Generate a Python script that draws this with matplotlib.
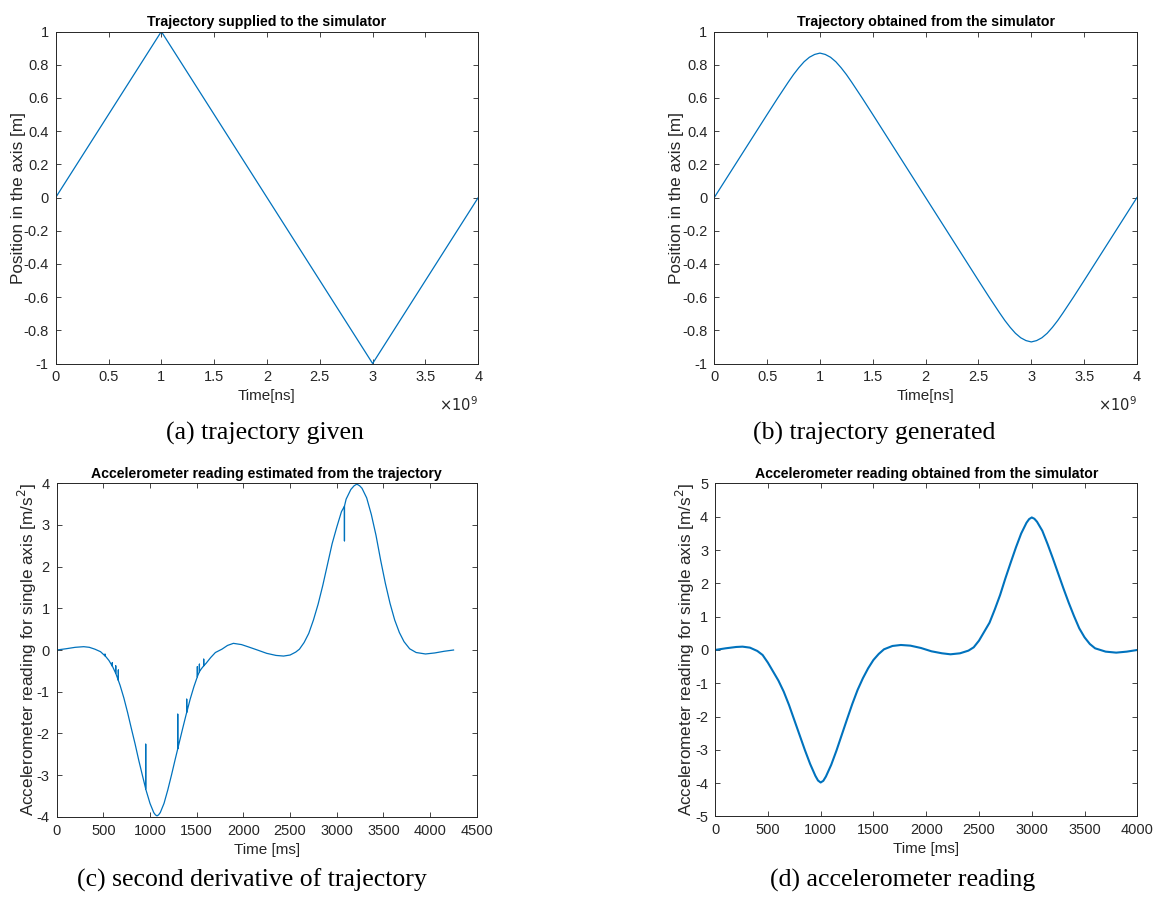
import numpy as np
import matplotlib
matplotlib.use("Agg")
import matplotlib.pyplot as plt
from matplotlib.ticker import FuncFormatter, MultipleLocator

# (a) trajectory given to the simulator, time in ns
a_time_ns = [0, 1e9, 3e9, 4e9]
a_pos = [0, 1, -1, 0]

# (b) trajectory obtained from the simulator, time in units of 1e9 ns
b_time = [0, 0.5, 0.6, 0.7, 0.75, 0.8, 0.85, 0.9, 0.95, 1.0, 1.05, 1.1, 1.15, 1.2,
          1.25, 1.3, 1.4, 1.5, 2.5, 2.6, 2.7, 2.75, 2.8, 2.85, 2.9, 2.95, 3.0, 3.05,
          3.1, 3.15, 3.2, 3.25, 3.3, 3.4, 3.5, 4.0]
b_pos = [0, 0.5, 0.599, 0.695, 0.741, 0.782, 0.818, 0.845, 0.862, 0.87, 0.862, 0.845,
         0.818, 0.782, 0.741, 0.695, 0.599, 0.5, -0.5, -0.599, -0.695, -0.741, -0.782,
         -0.818, -0.845, -0.862, -0.87, -0.862, -0.845, -0.818, -0.782, -0.741, -0.695,
         -0.599, -0.5, 0]

# (c) second derivative of the trajectory, time in ms
c_time = [0, 100, 200, 290, 350, 410, 470, 520, 560, 600, 640, 680, 720, 760, 800, 840,
          880, 920, 960, 1000, 1040, 1058, 1075, 1092, 1110, 1150, 1190, 1230, 1270, 1310,
          1350, 1390, 1430, 1470, 1510, 1550, 1600, 1650, 1700, 1770, 1830, 1893, 1980,
          2060, 2150, 2250, 2350, 2430, 2500, 2560, 2600, 2650, 2700, 2750, 2800, 2850,
          2900, 2950, 3000, 3050, 3100, 3150, 3185, 3215, 3245, 3270, 3320, 3370, 3420,
          3470, 3520, 3570, 3620, 3670, 3720, 3780, 3850, 3950, 4050, 4150, 4250]
c_accel = [0.0, 0.03, 0.065, 0.08, 0.065, 0.02, -0.04, -0.14, -0.25, -0.40, -0.60, -0.85,
           -1.15, -1.50, -1.88, -2.25, -2.65, -3.02, -3.38, -3.68, -3.90, -3.955, -3.98,
           -3.955, -3.90, -3.68, -3.36, -3.00, -2.62, -2.25, -1.88, -1.52, -1.18, -0.88,
           -0.62, -0.45, -0.32, -0.18, -0.06, 0.02, 0.11, 0.16, 0.13, 0.07, 0.0, -0.08,
           -0.13, -0.145, -0.12, -0.05, 0.02, 0.18, 0.40, 0.72, 1.10, 1.55, 2.05, 2.55,
           2.95, 3.32, 3.62, 3.85, 3.94, 3.98, 3.94, 3.88, 3.65, 3.25, 2.75, 2.15, 1.60,
           1.12, 0.72, 0.42, 0.20, 0.03, -0.06, -0.095, -0.07, -0.03, 0.0]
# glitches in the numerical derivative
spike_time = [518, 597, 633, 661, 954, 1297, 1393, 1507, 1529, 1575, 3082]
spike_base = [-0.14, -0.39, -0.56, -0.73, -3.33, -2.37, -1.50, -0.64, -0.52, -0.38, 3.45]
spike_tip = [-0.10, -0.30, -0.38, -0.48, -2.26, -1.54, -1.18, -0.40, -0.34, -0.22, 2.62]

# (d) accelerometer reading from the simulator, time in ms
d_time = [0, 100, 200, 260, 330, 400, 450, 500, 550, 600, 650, 700, 750, 800, 850, 900,
          950, 975, 1000, 1025, 1050, 1100, 1150, 1200, 1250, 1300, 1350, 1400, 1450,
          1500, 1550, 1600, 1680, 1760, 1850, 1950, 2050, 2150, 2230, 2320, 2400, 2450,
          2500, 2550, 2600, 2650, 2700, 2750, 2800, 2850, 2900, 2950, 2975, 3000, 3025,
          3050, 3100, 3150, 3200, 3250, 3300, 3350, 3400, 3450, 3500, 3550, 3600, 3700,
          3800, 3900, 4000]
d_accel = [0.0, 0.05, 0.09, 0.10, 0.07, -0.03, -0.15, -0.38, -0.65, -0.92, -1.25, -1.65,
           -2.10, -2.55, -3.00, -3.42, -3.78, -3.92, -3.98, -3.93, -3.80, -3.45, -3.02,
           -2.55, -2.08, -1.62, -1.20, -0.85, -0.55, -0.30, -0.12, 0.02, 0.12, 0.15, 0.13,
           0.06, -0.04, -0.10, -0.13, -0.10, -0.02, 0.08, 0.28, 0.55, 0.82, 1.22, 1.65,
           2.15, 2.62, 3.08, 3.50, 3.82, 3.93, 3.98, 3.94, 3.85, 3.58, 3.18, 2.75, 2.30,
           1.85, 1.42, 1.02, 0.65, 0.38, 0.18, 0.05, -0.05, -0.08, -0.05, 0.0]

LINE = '#0072BD'
AXC = '#262626'
TICK_FS = 10.5
XLABEL_FS = 11
YLABEL_FS = 12.3
TITLE_FS = 10.2
plt.rcParams['font.family'] = ['Liberation Sans', 'DejaVu Sans']

fig = plt.figure(figsize=(11.53, 8.98), dpi=100)

ax_a = fig.add_axes([0.0483, 0.5952, 0.3665, 0.3697])
ax_b = fig.add_axes([0.6195, 0.5952, 0.3666, 0.3697])
ax_c = fig.add_axes([0.0491, 0.0905, 0.3645, 0.3713])
ax_d = fig.add_axes([0.6202, 0.0908, 0.3662, 0.3708])

gfmt = FuncFormatter(lambda v, p: '%g' % round(v, 6))


def style(ax, title, xlabel, ylabel):
    ax.tick_params(direction='in', top=True, right=True, length=3.5, width=0.6,
                   labelsize=TICK_FS, colors=AXC, pad=5)
    for s in ax.spines.values():
        s.set_color(AXC)
        s.set_linewidth(0.7)
    ax.yaxis.set_major_formatter(gfmt)
    ax.set_title(title, fontsize=TITLE_FS, fontweight='bold', pad=4)
    ax.set_xlabel(xlabel, fontsize=XLABEL_FS, color=AXC, labelpad=3.5)
    ax.set_ylabel(ylabel, fontsize=YLABEL_FS, color=AXC, labelpad=-1.5)


# (a)
ax_a.plot(a_time_ns, a_pos, color=LINE, lw=0.9)
ax_a.set_xlim(0, 4e9)
ax_a.set_ylim(-1, 1)
ax_a.xaxis.set_major_locator(MultipleLocator(0.5e9))
ax_a.yaxis.set_major_locator(MultipleLocator(0.2))
style(ax_a, 'Trajectory supplied to the simulator', 'Time[ns]', 'Position in the axis [m]')
ax_a.xaxis.set_major_formatter(FuncFormatter(lambda v, p: '%g' % (v / 1e9)))
ax_a.text(1.0, -0.095, r'$\times10^{9}$', transform=ax_a.transAxes, ha='right',
          va='top', fontsize=TICK_FS, color=AXC)

# (b)
ax_b.plot(np.array(b_time) * 1e9, b_pos, color=LINE, lw=0.9)
ax_b.set_xlim(0, 4e9)
ax_b.set_ylim(-1, 1)
ax_b.xaxis.set_major_locator(MultipleLocator(0.5e9))
ax_b.yaxis.set_major_locator(MultipleLocator(0.2))
style(ax_b, 'Trajectory obtained from the simulator', 'Time[ns]', 'Position in the axis [m]')
ax_b.xaxis.set_major_formatter(FuncFormatter(lambda v, p: '%g' % (v / 1e9)))
ax_b.text(1.0, -0.095, r'$\times10^{9}$', transform=ax_b.transAxes, ha='right',
          va='top', fontsize=TICK_FS, color=AXC)

# (c) curve with glitches inserted as vertical strokes
ct = list(c_time)
cv = list(c_accel)
for t, b, tip in zip(spike_time, spike_base, spike_tip):
    ct += [t, t, t]
    cv += [b, tip, b]
order = np.argsort(ct, kind='stable')
ax_c.plot(np.array(ct)[order], np.array(cv)[order], color=LINE, lw=0.9)
ax_c.set_xlim(0, 4500)
ax_c.set_ylim(-4, 4)
ax_c.xaxis.set_major_locator(MultipleLocator(500))
ax_c.yaxis.set_major_locator(MultipleLocator(1))
style(ax_c, 'Accelerometer reading estimated from the trajectory', 'Time [ms]',
      'Accelerometer reading for single axis [m/s$^2$]')
ax_c.xaxis.set_major_formatter(gfmt)

# (d)
ax_d.plot(d_time, d_accel, color=LINE, lw=1.5)
ax_d.set_xlim(0, 4000)
ax_d.set_ylim(-5, 5)
ax_d.xaxis.set_major_locator(MultipleLocator(500))
ax_d.yaxis.set_major_locator(MultipleLocator(1))
style(ax_d, 'Accelerometer reading obtained from the simulator', 'Time [ms]',
      'Accelerometer reading for single axis [m/s$^2$]')
ax_d.xaxis.set_major_formatter(gfmt)

# sub-figure captions
cap = dict(fontsize=18.5, family='Liberation Serif', ha='center', va='center')
fig.text(265 / 1153, 1 - 433 / 898, '(a) trajectory given', **cap)
fig.text(874 / 1153, 1 - 433 / 898, '(b) trajectory generated', **cap)
fig.text(252 / 1153, 1 - 880 / 898, '(c) second derivative of trajectory', **cap)
fig.text(903 / 1153, 1 - 880 / 898, '(d) accelerometer reading', **cap)

fig.savefig('out.png', dpi=100)
